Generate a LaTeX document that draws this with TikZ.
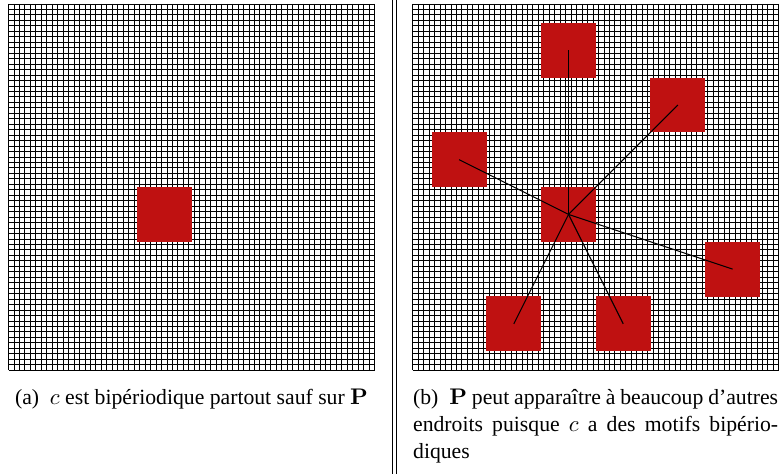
\documentclass[tikz,border=0pt]{standalone}
\usepackage[no-math]{fontspec}
\setmainfont{Liberation Serif}
\definecolor{motifred}{RGB}{191,17,17}
\tikzset{
  gridline/.style={line width=0.4pt, black},
  motif/.style={fill=motifred, draw=none, inner sep=0pt, minimum size=24.3pt},
  link/.style={line width=0.45pt, black},
  sepline/.style={line width=0.45pt, black},
  captext/.style={inner sep=0pt, font=\fontsize{9.6}{12}\selectfont},
  tilegrid/.pic={
    \foreach \i in {0,...,67} {
      \draw[gridline] ({\i*5.465},0) -- ({\i*5.465},366.2);
      \draw[gridline] (0,{\i*5.465}) -- (366.2,{\i*5.465});
    }
  }
}
\begin{document}
\begin{tikzpicture}[x=0.4425pt,y=-0.4425pt]
\useasboundingbox (0,0) rectangle (780,474);
% grids
\pic at (8.5,4) {tilegrid};
\pic at (412.7,4) {tilegrid};
% separator
\draw[sepline] (392.3,0) -- (392.3,474);
\draw[sepline] (396.3,0) -- (396.3,474);
% left panel
\node[motif] (p) at (164.8,214.2) {};
% right panel
\node[motif] (c)  at (568.5,214.4) {};
\node[motif] (t)  at (568.5,50.3) {};
\node[motif] (ur) at (677.9,105.0) {};
\node[motif] (l)  at (459.1,159.7) {};
\node[motif] (r)  at (732.6,269.1) {};
\node[motif] (bl) at (513.8,323.8) {};
\node[motif] (bc) at (623.2,323.8) {};
\foreach \n in {t,ur,l,r,bl,bc} {
  \draw[link] (c.center) -- (\n.center);
}
% captions
\node[captext, anchor=base] (capa) at (191.5,404) {(a)\enskip$c$ est bipériodique partout sauf sur $\mathbf{P}$};
\node[captext, anchor=base west] (capb1) at (412.7,404) {\makebox[161.5pt][s]{(b)\enskip$\mathbf{P}$ peut apparaître à beaucoup d’autres}};
\node[captext, anchor=base west] (capb2) at (412.7,431) {\makebox[161.5pt][s]{endroits puisque $c$ a des motifs bipério-}};
\node[captext, anchor=base west] (capb3) at (412.7,458) {diques};
\end{tikzpicture}
\end{document}
